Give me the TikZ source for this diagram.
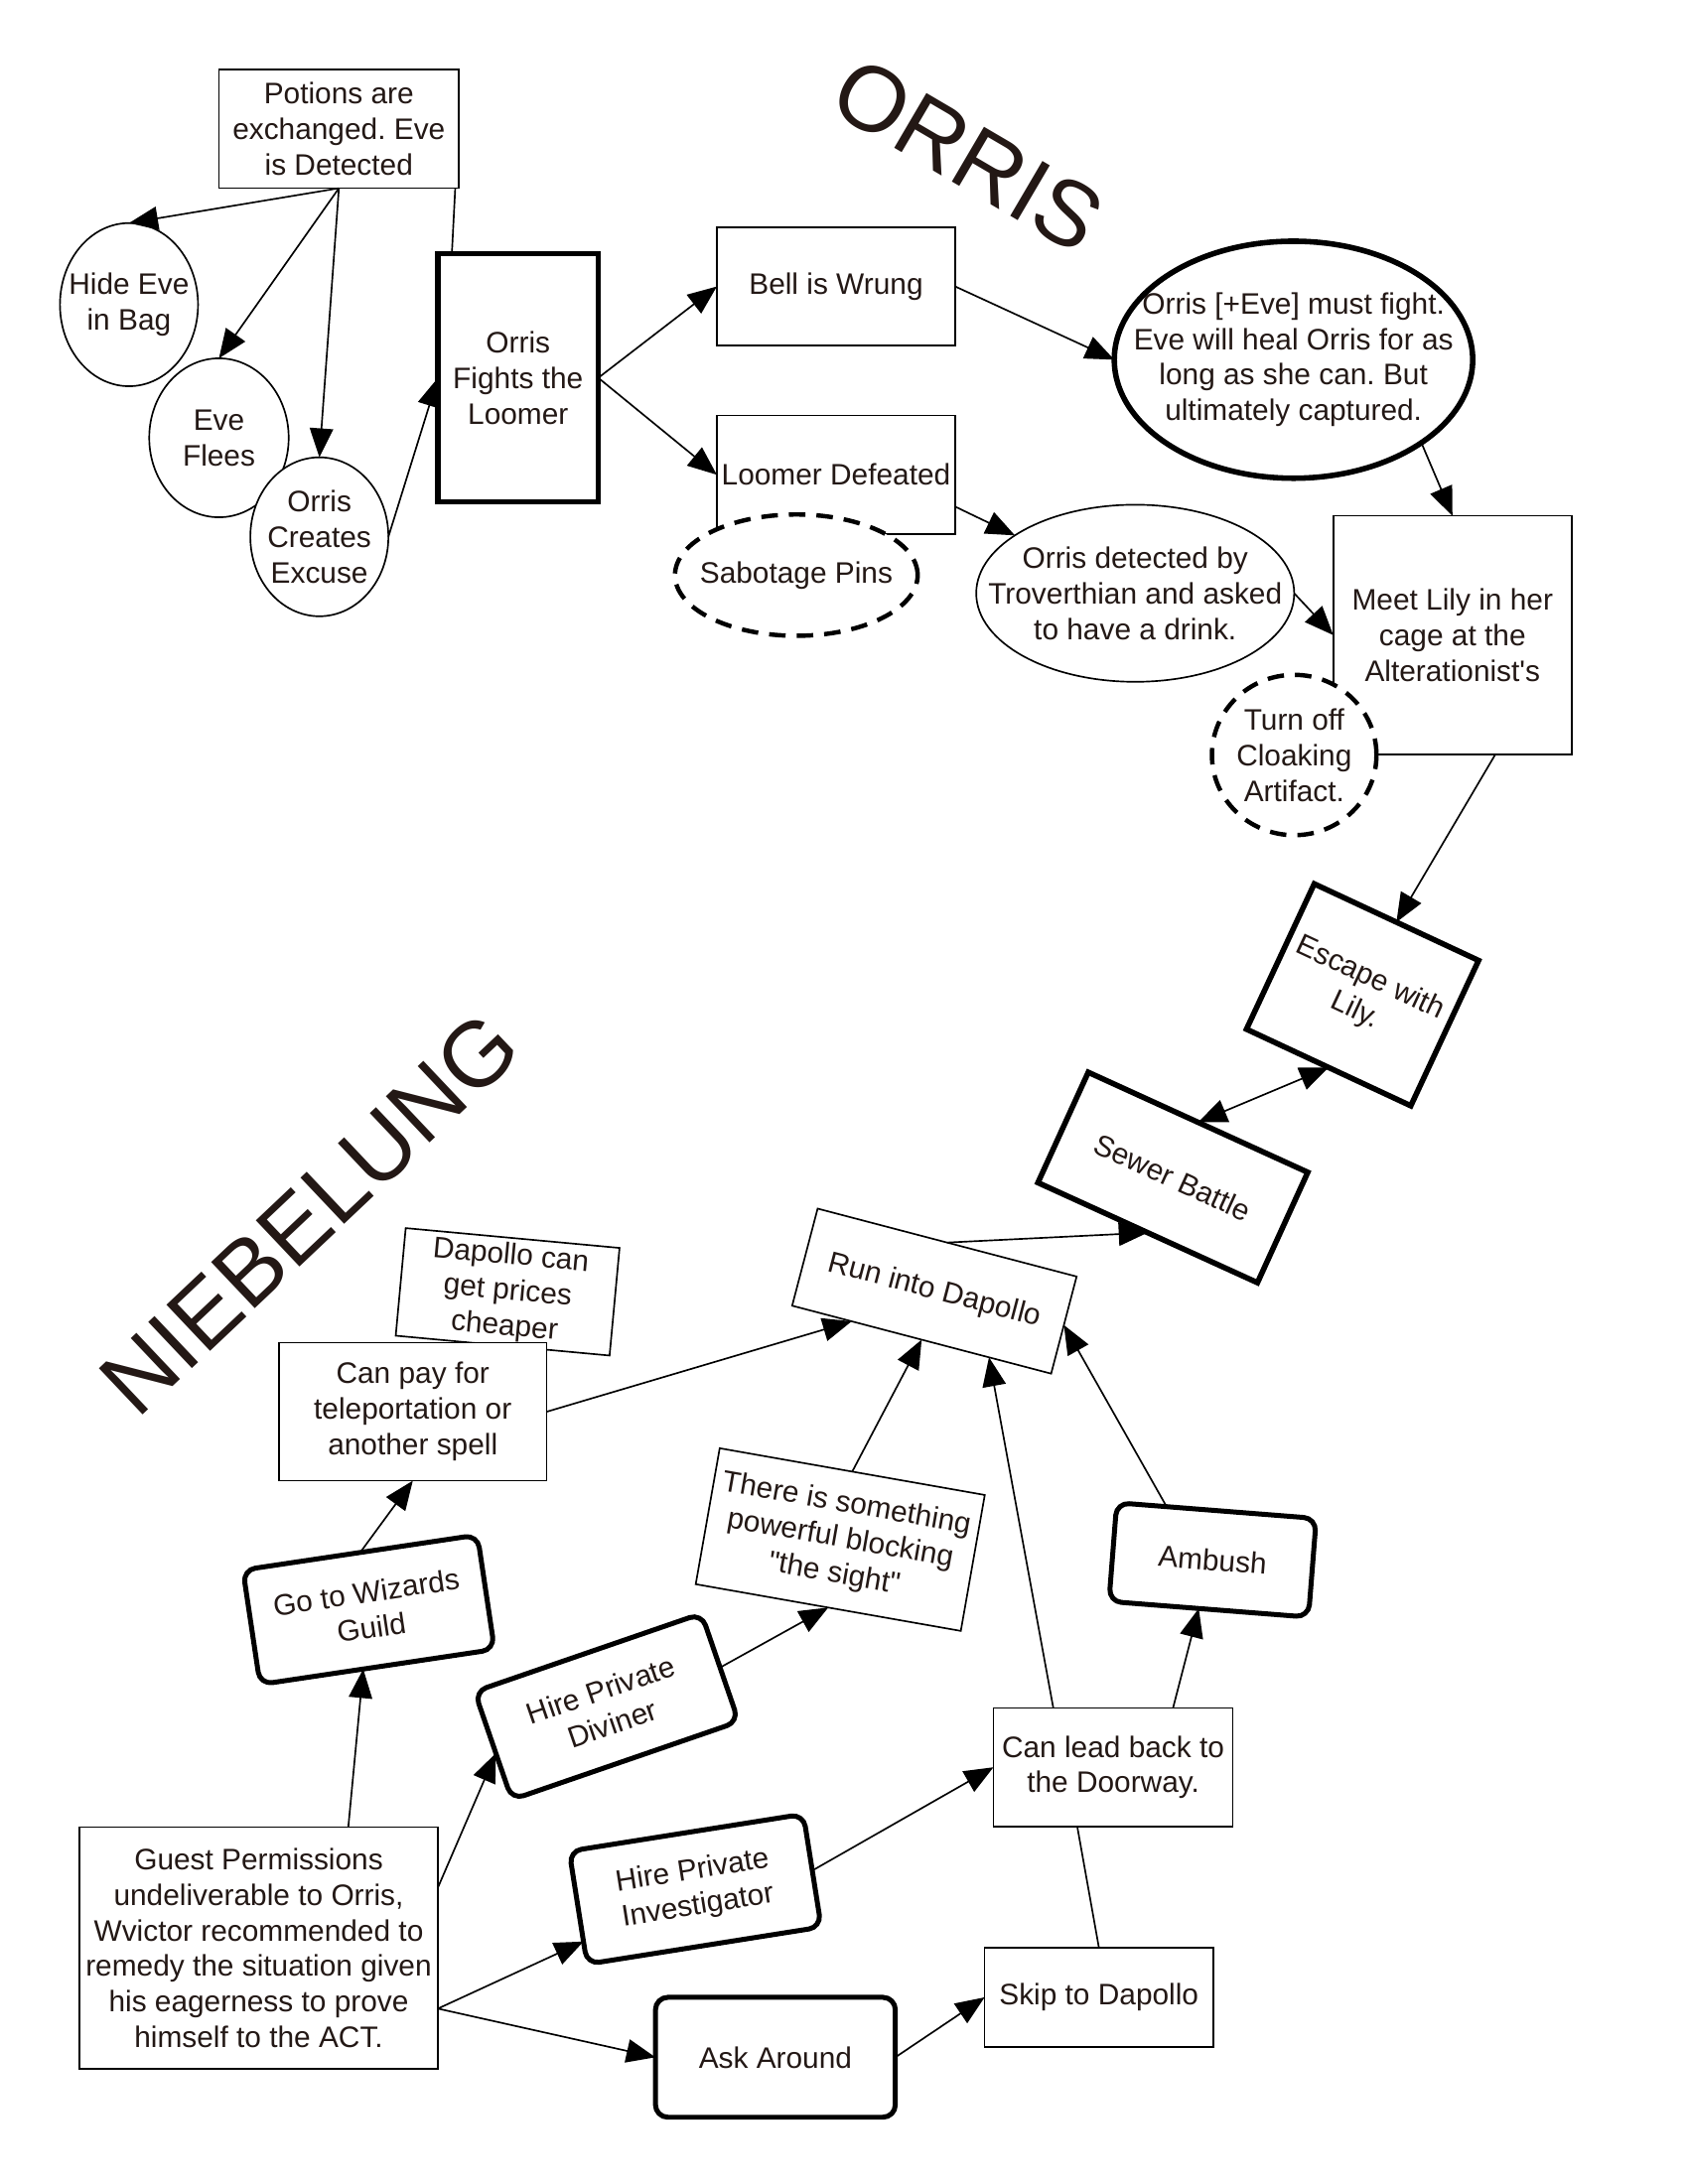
\documentclass[tikz,border=0pt]{standalone}
\usepackage{fontspec}
\setmainfont{Liberation Sans}[Ligatures=TeXOff]
\usetikzlibrary{arrows.meta,shapes.geometric,calc}
\definecolor{txt}{RGB}{35,24,21}
\newdimen\vu
\vu=0.5058pt
\frenchspacing
\begin{document}
\begin{tikzpicture}[x=0.5058pt,y=-0.5058pt,
  every node/.style={font=\fontsize{10.75}{12.9}\selectfont, text=txt, align=center, inner sep=0pt, outer sep=0pt},
  box/.style={draw=black, line width=0.6pt, fill=white, rectangle},
  tbox/.style={draw=black, line width=2pt, fill=white, rectangle},
  rbox/.style={draw=black, line width=1.8pt, fill=white, rectangle, rounded corners=4.5pt},
  ell/.style={draw=black, line width=0.6pt, fill=white, ellipse},
  tell/.style={draw=black, line width=2pt, fill=white, ellipse},
  dell/.style={draw=black, line width=1.6pt, fill=white, ellipse, dash pattern=on 6pt off 4pt},
  conn/.style={draw=black, line width=0.6pt},
  arr/.style={conn, -{Triangle[length=10.5pt,width=8.5pt]}},
  darr/.style={conn, {Triangle[length=10.5pt,width=8.5pt]}-{Triangle[length=10.5pt,width=8.5pt]}},
  title/.style={font=\fontsize{33.5}{34}\selectfont, text=txt}
]
\useasboundingbox (0,0) rectangle (1210.4,1566.4);

% titles
\node[title, rotate=-30.4] (orris) at (694.3,111.1) {ORRIS};
\node[title, rotate=43.4] (niebelung) at (222.2,870.4) {NIEBELUNG};

% ---------- ORRIS part ----------
\node[box, minimum width=172\vu, minimum height=85\vu] (potions) at (243,92.5) {Potions are\\exchanged. Eve\\is Detected};

\node[ell, minimum width=99\vu, minimum height=117\vu] (hide) at (92.5,218.5) {};
\node (hidet) at (hide) {Hide Eve\\in Bag};
\node[ell, minimum width=100\vu, minimum height=114\vu] (flees) at (157,314) {};
\node (fleest) at (flees) {Eve\\Flees};
\node[ell, minimum width=99\vu, minimum height=114\vu] (excuse) at (229,385) {};
\node (excuset) at (excuse) {Orris\\Creates\\Excuse};

\node[tbox, minimum width=115\vu, minimum height=178\vu] (fights) at (371.5,271) {Orris\\Fights the\\Loomer};

\node[box, minimum width=171\vu, minimum height=85\vu] (bell) at (599.5,205.5) {Bell is Wrung};
\node[box, minimum width=171\vu, minimum height=85\vu] (loomer) at (599.5,340.5) {Loomer Defeated};
\node[dell, minimum width=174\vu, minimum height=87\vu] (sabotage) at (571,412.5) {};
\node (sabotaget) at (sabotage) {Sabotage Pins};

\node[tell, minimum width=257\vu, minimum height=170\vu] (capture) at (927.5,258) {};
\node (capturet) at (capture) {Orris [+Eve] must fight.\\Eve will heal Orris for as\\long as she can. But\\ultimately captured.};

\node[ell, minimum width=228\vu, minimum height=127\vu] (troverthian) at (814,425.5) {};
\node (troverthiant) at (troverthian) {Orris detected by\\Troverthian and asked\\to have a drink.};

\node[box, minimum width=171\vu, minimum height=171\vu] (lily) at (1041.5,455.5) {Meet Lily in her\\cage at the\\Alterationist's};
\node[dell, minimum width=118\vu, minimum height=115\vu] (cloak) at (928,541.5) {};
\node (cloakt) at (cloak) {Turn off\\Cloaking\\Artifact.};

\node[tbox, rotate=-25, minimum width=130\vu, minimum height=115\vu] (escape) at (977,713.5) {Escape with\\Lily.};
\node[tbox, rotate=-24.5, minimum width=173\vu, minimum height=87\vu] (sewer) at (841,844.5) {Sewer Battle};

% ---------- NIEBELUNG part ----------
\node[box, rotate=-14.7, minimum width=192\vu, minimum height=72\vu] (dapollo) at (670,926) {Run into Dapollo};
\node[box, rotate=-5.3, minimum width=154\vu, minimum height=77.5\vu] (cheaper) at (364,926.5) {Dapollo can\\get prices\\cheaper};
\node[box, minimum width=192\vu, minimum height=99\vu] (canpay) at (296,1012.5) {Can pay for\\teleportation or\\another spell};
\node[rbox, rotate=8.5, minimum width=170\vu, minimum height=83\vu] (wizards) at (264.4,1154.5) {Go to Wizards\\Guild};
\node[box, rotate=-10, minimum width=193\vu, minimum height=99\vu] (sight) at (602.5,1104.2) {There is something\\powerful blocking\\"the sight"};
\node[rbox, rotate=19, minimum width=172\vu, minimum height=82\vu] (diviner) at (435,1224) {Hire Private\\Diviner};
\node[rbox, rotate=-4.5, minimum width=143.5\vu, minimum height=71\vu] (ambush) at (869.5,1118.8) {Ambush};
\node[box, minimum width=171.7\vu, minimum height=85\vu] (doorway) at (798.2,1267.5) {Can lead back to\\the Doorway.};
\node[rbox, rotate=9, minimum width=170\vu, minimum height=82\vu] (investigator) at (498.5,1354.9) {Hire Private\\Investigator};
\node[box, minimum width=257\vu, minimum height=173.6\vu] (guest) at (185.5,1397.2) {Guest Permissions\\undeliverable to Orris,\\Wvictor recommended to\\remedy the situation given\\his eagerness to prove\\himself to the ACT.};
\node[rbox, minimum width=172\vu, minimum height=86\vu] (ask) at (556,1475.5) {Ask Around};
\node[box, minimum width=164\vu, minimum height=71\vu] (skip) at (788,1432.5) {Skip to Dapollo};

% ---------- connectors ----------
\draw[arr] (potions.south) -- (hide.north);
\draw[arr] (potions.south) -- (flees.north);
\draw[arr] (potions.south) -- (excuse.north);
\draw[conn] ($(potions.south west)!0.985!(potions.south east)$) -- ($(fights.north west)!0.087!(fights.north east)$);
\draw[arr] (excuse.east) -- (fights.west);
\draw[arr] (fights.east) -- (bell.west);
\draw[arr] (fights.east) -- (loomer.west);
\draw[arr] (bell.east) -- (capture.west);
\draw[arr] (loomer.-15) -- (troverthian);
\draw[arr] (capture.-33) -- (lily.north);
\draw[arr] (troverthian.east) -- (lily.west);
\draw[arr] ($(lily.south west)!0.68!(lily.south east)$) -- (escape.north);
\draw[darr] (sewer.north) -- (escape.south);
\draw[arr] (dapollo.north) -- (sewer.south);
\draw[arr] (canpay.east) -- ($(dapollo.south west)!0.23!(dapollo.south east)$);
\draw[arr] (sight.north) -- (dapollo.south);
\draw[arr] ($(doorway.north west)!0.25!(doorway.north east)$) -- ($(dapollo.south west)!0.76!(dapollo.south east)$);
\draw[arr] ($(ambush.north west)!0.25!(ambush.north east)$) -- (dapollo.east);
\draw[arr] ($(doorway.north west)!0.75!(doorway.north east)$) -- ($(ambush.south west)!0.45!(ambush.south east)$);
\draw[arr] (investigator.east) -- (doorway.west);
\draw[conn] (skip.north) -- ($(doorway.south west)!0.35!(doorway.south east)$);
\draw[arr] (ask.east) -- (skip.west);
\draw[arr] ($(guest.north west)!0.75!(guest.north east)$) -- ($(wizards.south west)!0.44!(wizards.south east)$);
\draw[arr] ($(guest.north east)!0.25!(guest.south east)$) -- ($(diviner.north west)!0.57!(diviner.south west)$);
\draw[arr] ($(guest.north east)!0.75!(guest.south east)$) -- ($(investigator.north west)!0.8!(investigator.south west)$);
\draw[arr] ($(guest.north east)!0.75!(guest.south east)$) -- (ask.west);
\draw[arr] (wizards.north) -- (canpay.south);
\draw[arr] (diviner.east) -- (sight.south);
\end{tikzpicture}
\end{document}
